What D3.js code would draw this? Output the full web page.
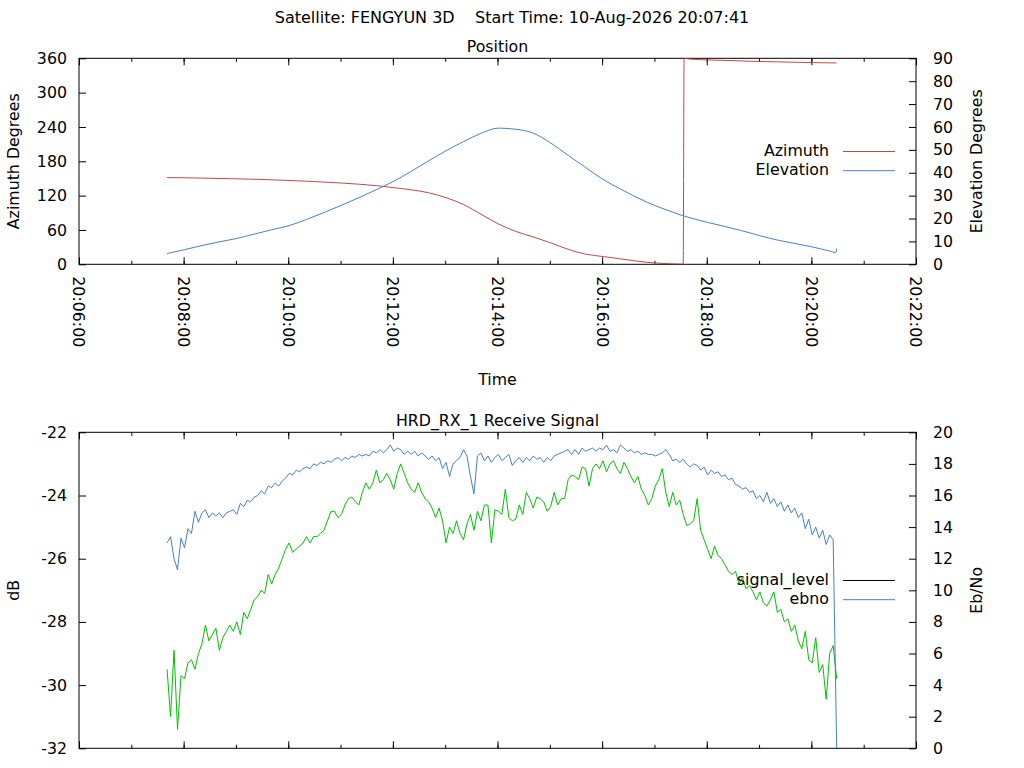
<!DOCTYPE html>
<html>
<head>
<meta charset="utf-8">
<script src="https://cdn.jsdelivr.net/npm/d3@7"></script>
<style>
  body { margin: 0; background: #fff; }
  svg text { font-family: "DejaVu Sans", sans-serif; font-size: 15.8px; fill: #000; }
  .pre { white-space: pre; font-size: 16px; }
</style>
</head>
<body>
<svg id="chart" width="1024" height="768"></svg>
<script>
"use strict";

// pass header
var satellite = "FENGYUN 3D";
var passDay = "10-Aug-2026";
var passStart = "20:07:41";
var axisStart = "20:06:00";
var axisEnd = "20:22:00";

// position track, seconds after pass start
var posSeconds = [0, 20, 40, 60, 80, 100, 120, 140, 160, 180,
                  200, 220, 240, 260, 280, 300, 320, 340, 360, 380,
                  400, 420, 440, 460, 480, 500, 520, 540, 560, 580,
                  592, 593,
                  600, 620, 640, 660, 680, 700, 720, 740, 760,
                  767, 768];
var azimuth = [151.5, 151.2, 150.6, 150.0, 149.4, 148.6, 147.6, 146.5, 145.2, 143.7,
               142.0, 140.0, 137.5, 133.9, 130.2, 125.0, 116.5, 104.5, 87.6, 70.6,
               57.5, 47.8, 37.5, 26.2, 17.8, 13.6, 9.5, 5.3, 2.3, 0.8,
               0.2, 359.9,
               358.6, 357.2, 356.3, 355.3, 354.4, 353.8, 353.1, 352.5, 352.0,
               351.9, 351.9];
var elevation = [4.7, 6.4, 8.2, 9.8, 11.3, 13.2, 15.1, 16.9, 19.6, 22.6,
                 25.8, 29.1, 32.6, 36.3, 40.6, 45.2, 49.6, 53.6, 57.2, 59.5,
                 59.0, 57.3, 53.0, 47.6, 42.3, 37.1, 32.9, 29.0, 25.6, 22.8,
                 21.2, 21.1,
                 20.3, 18.3, 16.5, 14.6, 12.5, 10.6, 9.1, 7.6, 5.8,
                 5.1, 6.9];

// receiver log, one sample every 4 s from pass start
var sampleStep = 4;
var signalLevel = [
  -29.5, -31.0, -28.9, -31.4, -29.7, -29.8, -29.3, -29.2, -29.5, -29.0,
  -28.7, -28.1, -28.6, -28.4, -28.2, -28.9, -28.5, -28.3, -28.1, -28.3,
  -28.0, -28.4, -27.7, -27.9, -27.6, -27.3, -27.2, -27.0, -27.1, -26.5,
  -26.8, -26.5, -26.3, -26.0, -25.7, -25.5, -25.8, -25.7, -25.6, -25.5,
  -25.3, -25.5, -25.3, -25.3, -25.2, -25.1, -24.8, -24.5, -24.5, -24.7,
  -24.6, -24.3, -24.1, -24.05, -24.2, -24.3, -23.9, -23.6, -23.8, -23.6,
  -23.2, -23.6, -23.5, -23.3, -23.5, -23.8, -23.3, -23.0, -23.3, -23.6,
  -23.8, -23.9, -23.6, -23.9, -24.1, -24.2, -24.4, -24.7, -24.4, -24.8,
  -25.5, -25.0, -25.2, -24.8, -25.2, -25.4, -24.9, -24.6, -25.1, -24.5,
  -24.8, -24.3, -24.3, -25.5, -24.45, -24.5, -24.6, -23.8, -24.7, -24.8,
  -24.75, -24.3, -24.6, -23.9, -24.1, -24.4, -24.05, -24.1, -24.2, -24.5,
  -24.35, -23.9, -24.3, -24.1, -24.1, -23.5, -23.35, -23.4, -23.5, -23.1,
  -23.15, -23.7, -23.15, -23.0, -23.15, -22.9, -23.25, -23.0, -22.9, -23.15,
  -23.3, -22.95, -23.15, -23.4, -23.6, -23.4, -23.8, -24.0, -24.3, -24.1,
  -23.7, -23.5, -23.15, -23.9, -24.35, -23.9, -24.3, -24.15, -24.6, -24.95,
  -24.9, -24.8, -24.1, -25.1, -25.4, -25.7, -26.0, -25.6, -25.9, -26.0,
  -26.2, -26.4, -26.5, -26.4, -26.8, -26.6, -26.95, -26.85, -27.05, -27.3,
  -27.05, -27.4, -27.5, -27.3, -27.05, -27.7, -27.6, -28.0, -27.9, -28.3,
  -28.1, -28.6, -28.85, -28.3, -29.2, -29.3, -28.5, -29.6, -29.35, -30.45,
  -29.0, -28.75, -29.8];
var ebno = [
  13.0, 13.4, 12.0, 11.3, 13.3, 12.7, 13.9, 13.6, 15.0, 14.3,
  14.9, 15.1, 14.6, 14.9, 14.7, 14.9, 14.6, 14.9, 15.0, 15.1,
  14.8, 15.5, 15.3, 15.7, 15.6, 15.9, 16.0, 16.3, 16.1, 16.6,
  16.5, 16.8, 16.6, 16.9, 17.1, 17.4, 17.3, 17.6, 17.5, 17.7,
  17.8, 17.7, 18.0, 17.9, 18.1, 18.0, 18.2, 18.1, 18.3, 18.4,
  18.2, 18.4, 18.3, 18.5, 18.4, 18.6, 18.5, 18.6, 18.5, 18.8,
  18.7, 18.9, 18.7, 18.9, 19.2, 18.8, 19.0, 18.9, 18.6, 18.8,
  18.6, 18.8, 18.5, 18.7, 18.5, 18.3, 18.5, 18.2, 18.4, 17.7,
  18.1, 17.2, 18.0, 18.2, 18.4, 18.9, 18.5, 17.2, 16.1, 18.5,
  18.7, 18.2, 18.5, 18.1, 18.4, 18.6, 18.2, 18.4, 18.6, 17.9,
  18.2, 18.4, 18.1, 18.4, 18.2, 18.5, 18.3, 18.4, 18.1, 18.4,
  18.2, 18.5, 18.6, 18.7, 18.8, 18.9, 18.6, 18.9, 18.6, 19.0,
  18.8, 18.9, 19.0, 18.8, 19.0, 18.9, 19.2, 18.8, 18.9, 18.7,
  19.2, 19.0, 18.8, 18.9, 18.7, 18.8, 18.6, 18.7, 18.6, 18.6,
  18.5, 18.6, 18.7, 18.9, 18.6, 18.2, 18.3, 18.1, 18.3, 18.0,
  17.8, 18.0, 17.9, 17.6, 17.8, 17.3, 17.6, 17.4, 17.5, 17.2,
  17.3, 17.0, 17.1, 16.7, 16.6, 16.4, 16.5, 16.2, 16.3, 15.8,
  16.0, 15.6, 16.2, 15.5, 15.8, 15.3, 15.6, 15.0, 15.4, 14.9,
  15.2, 14.6, 14.9, 13.9, 14.5, 13.5, 14.0, 13.3, 13.8, 12.9,
  13.5, 13.2, 0];

// tick values
var azTicks = [0, 60, 120, 180, 240, 300, 360];
var elTicks = [0, 10, 20, 30, 40, 50, 60, 70, 80, 90];
var dbTicks = [-32, -30, -28, -26, -24, -22];
var ebTicks = [0, 2, 4, 6, 8, 10, 12, 14, 16, 18, 20];

var colors = { azimuth: "#c04848", elevation: "#4a7ec4", signal: "#00c000", ebno: "#4a7ec4" };

var svg = d3.select("#chart");
var parseClock = d3.timeParse("%d-%b-%Y %H:%M:%S");
var t0 = parseClock(passDay + " " + passStart);

// plot frame, shared by both panels
var plotLeft = 79, plotRight = 916;
var x = d3.scaleTime()
    .domain([parseClock(passDay + " " + axisStart), parseClock(passDay + " " + axisEnd)])
    .range([plotLeft, plotRight]);

var majorTimes = x.ticks(d3.timeMinute.every(2));
var minorTimes = x.ticks(d3.timeMinute.every(1));

// gnuplot prints a plain hyphen for negatives
function plain(d) { return String(d); }

function at(sec) { return new Date(t0.getTime() + sec * 1000); }

function drawPanel(cfg) {
    var g = svg.append("g");
    var yL = d3.scaleLinear().domain(cfg.leftDomain).range([cfg.bottom, cfg.top]);
    var yR = d3.scaleLinear().domain(cfg.rightDomain).range([cfg.bottom, cfg.top]);

    // minor then major x ticks, mirrored on top
    [[minorTimes, -3.5], [majorTimes, -7]].forEach(function(p) {
        g.append("g").attr("transform", "translate(0," + cfg.bottom + ")")
            .call(d3.axisBottom(x).tickValues(p[0]).tickSizeInner(p[1]).tickSizeOuter(0).tickFormat(""));
        g.append("g").attr("transform", "translate(0," + cfg.top + ")")
            .call(d3.axisTop(x).tickValues(p[0]).tickSizeInner(p[1]).tickSizeOuter(0).tickFormat(""));
    });

    g.append("g").attr("transform", "translate(" + plotLeft + ",0)")
        .call(d3.axisLeft(yL).tickValues(cfg.leftTicks).tickFormat(plain)
            .tickSizeInner(-7).tickSizeOuter(0).tickPadding(12));
    g.append("g").attr("transform", "translate(" + plotRight + ",0)")
        .call(d3.axisRight(yR).tickValues(cfg.rightTicks).tickFormat(plain)
            .tickSizeInner(-7).tickSizeOuter(0).tickPadding(17));

    g.selectAll(".domain").remove();
    g.selectAll("g").attr("font-size", null).attr("font-family", null);
    g.selectAll(".tick line").attr("stroke", "#000");

    g.append("rect")
        .attr("x", plotLeft).attr("y", cfg.top)
        .attr("width", plotRight - plotLeft).attr("height", cfg.bottom - cfg.top)
        .attr("fill", "none").attr("stroke", "#000");

    if (cfg.timeLabels) {
        var fmt = d3.timeFormat("%H:%M:%S");
        g.selectAll(".xlab").data(majorTimes).enter().append("text")
            .attr("transform", function(d) { return "translate(" + x(d) + "," + (cfg.bottom + 12) + ") rotate(90)"; })
            .attr("dy", "0.35em")
            .text(fmt);
    }

    g.append("text").attr("x", (plotLeft + plotRight) / 2).attr("y", cfg.titleY)
        .attr("text-anchor", "middle").text(cfg.title);

    var midY = (cfg.top + cfg.bottom) / 2;
    g.append("text").attr("transform", "translate(18.5," + midY + ") rotate(-90)")
        .attr("text-anchor", "middle").text(cfg.leftLabel);
    g.append("text").attr("transform", "translate(981.5," + midY + ") rotate(-90)")
        .attr("text-anchor", "middle").text(cfg.rightLabel);

    // clip data to the frame
    var clipId = "clip" + Math.round(cfg.top);
    svg.append("clipPath").attr("id", clipId).append("rect")
        .attr("x", plotLeft).attr("y", cfg.top)
        .attr("width", plotRight - plotLeft).attr("height", cfg.bottom - cfg.top);

    var lines = g.append("g").attr("clip-path", "url(#" + clipId + ")");
    cfg.series.forEach(function(s) {
        var scale = s.axis === "left" ? yL : yR;
        var line = d3.line()
            .curve(cfg.smooth ? d3.curveMonotoneX : d3.curveLinear)
            .x(function(d) { return x(d[0]); })
            .y(function(d) { return scale(d[1]); });
        lines.append("path").datum(s.points)
            .attr("d", line)
            .attr("fill", "none")
            .attr("stroke", s.color)
            .attr("stroke-width", 1);
    });

    // key
    cfg.legend.forEach(function(k, i) {
        var by = cfg.legendY + i * 19.2;
        g.append("text").attr("x", 829).attr("y", by).attr("text-anchor", "end").text(k.name);
        g.append("line").attr("x1", 843).attr("x2", 895)
            .attr("y1", by - 4.5).attr("y2", by - 4.5)
            .attr("stroke", k.color).attr("stroke-width", 1);
    });
}

var azPoints = posSeconds.map(function(s, i) { return [at(s), azimuth[i]]; });
var elPoints = posSeconds.map(function(s, i) { return [at(s), elevation[i]]; });
var sigPoints = signalLevel.map(function(v, i) { return [at(i * sampleStep), v]; });
var ebPoints = ebno.map(function(v, i) { return [at(i * sampleStep), v]; });

svg.append("text").attr("class", "pre").attr("x", 512).attr("y", 23)
    .attr("text-anchor", "middle")
    .text("Satellite: " + satellite + "    Start Time: " + passDay + " " + passStart);

drawPanel({
    top: 58.3, bottom: 264.3, title: "Position", titleY: 52,
    leftDomain: [0, 360], rightDomain: [0, 90],
    leftTicks: azTicks, rightTicks: elTicks,
    leftLabel: "Azimuth Degrees", rightLabel: "Elevation Degrees",
    timeLabels: true, smooth: true,
    series: [
        { points: azPoints, axis: "left", color: colors.azimuth },
        { points: elPoints, axis: "right", color: colors.elevation }
    ],
    legendY: 156,
    legend: [{ name: "Azimuth", color: colors.azimuth }, { name: "Elevation", color: colors.elevation }]
});

svg.append("text").attr("x", (plotLeft + plotRight) / 2).attr("y", 385)
    .attr("text-anchor", "middle").text("Time");

drawPanel({
    top: 432.3, bottom: 748.3, title: "HRD_RX_1 Receive Signal", titleY: 425.5,
    leftDomain: [-32, -22], rightDomain: [0, 20],
    leftTicks: dbTicks, rightTicks: ebTicks,
    leftLabel: "dB", rightLabel: "Eb/No",
    timeLabels: false, smooth: false,
    series: [
        { points: sigPoints, axis: "left", color: colors.signal },
        { points: ebPoints, axis: "right", color: colors.ebno }
    ],
    legendY: 585,
    legend: [{ name: "signal_level", color: "#000" }, { name: "ebno", color: colors.ebno }]
});
</script>
</body>
</html>
